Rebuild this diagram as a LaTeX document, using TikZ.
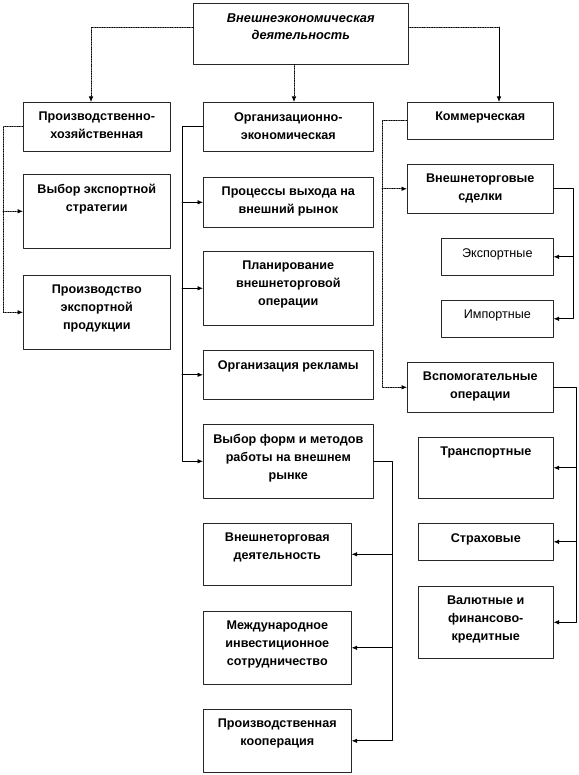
\documentclass[tikz,border=0pt]{standalone}
\usepackage{fontspec}
\setmainfont{Liberation Sans}
\usetikzlibrary{arrows.meta}
\newcommand{\bxt}[3]{\parbox[c][#2pt][t]{#1pt}{\centering\vspace*{10pt}#3}}

\begin{document}
\begin{tikzpicture}[
  x=1pt, y=-1pt,
  line cap=round, line join=round,
  blk/.style={draw=black!85, line width=0.6pt, inner sep=0pt, anchor=north west,
    font=\bfseries\fontsize{12.6}{18}\selectfont},
  lnk/.style={line width=0.7pt, -{Latex[length=5.5pt,width=4.5pt]}},
  dlnk/.style={lnk, densely dotted}
]
  \useasboundingbox (0,0) rectangle (578,775);
  % top block
  \node[blk, font=\bfseries\itshape\fontsize{12.8}{17}\selectfont] (vea) at (193,3) {\bxt{215}{61}{Внешнеэкономическая\\деятельность}};
  % first column
  \node[blk] (c1a) at (23,102) {\bxt{147}{49}{Производственно-\\хозяйственная}};
  \node[blk] (c1b) at (23,174) {\bxt{147}{74}{Выбор экспортной\\стратегии}};
  \node[blk] (c1c) at (23,275) {\bxt{147}{74}{Производство\\экспортной\\продукции}};
  % second column
  \node[blk] (c2a) at (203,102) {\bxt{170}{49}{Организационно-\\экономическая}};
  \node[blk] (c2b) at (203,177) {\bxt{170}{50}{Процессы выхода на\\внешний рынок}};
  \node[blk] (c2c) at (203,251) {\bxt{170}{74}{Планирование\\внешнеторговой\\операции}};
  \node[blk] (c2d) at (203,350) {\bxt{170}{49}{Организация рекламы}};
  \node[blk] (c2e) at (203,424) {\bxt{170}{74}{Выбор форм и методов\\работы на внешнем\\рынке}};
  \node[blk] (c2f) at (203,523) {\bxt{148}{62}{Внешнеторговая\\деятельность}};
  \node[blk] (c2g) at (203,611) {\bxt{148}{73}{Международное\\инвестиционное\\сотрудничество}};
  \node[blk] (c2h) at (203,709) {\bxt{148}{63}{Производственная\\кооперация}};
  % third column
  \node[blk] (c3a) at (407,102) {\bxt{146}{37}{Коммерческая}};
  \node[blk] (c3b) at (407,164) {\bxt{146}{49}{Внешнеторговые\\сделки}};
  \node[blk, font=\fontsize{12.6}{18}\selectfont] (c3c) at (441,238) {\bxt{112}{37}{Экспортные}};
  \node[blk, font=\fontsize{12.6}{18}\selectfont] (c3d) at (441,300) {\bxt{112}{37}{Импортные}};
  \node[blk] (c3e) at (407,362) {\bxt{146}{50}{Вспомогательные\\операции}};
  \node[blk] (c3f) at (418,437) {\bxt{135}{61}{Транспортные}};
  \node[blk] (c3g) at (418,523) {\bxt{135}{37}{Страховые}};
  \node[blk] (c3h) at (418,586) {\bxt{135}{72}{Валютные и\\финансово-\\кредитные}};
  % bend points of the connectors
  \coordinate (k1) at (91,27);
  \coordinate (k2) at (294,0);
  \coordinate (k3) at (499,27);
  \coordinate (s1) at (3,0);
  \coordinate (s2) at (182,0);
  \coordinate (s3) at (382,0);
  \coordinate (s4) at (392,0);
  \coordinate (s5) at (573,0);
  \coordinate (s6) at (576,0);
  % from the top block
  \draw[dlnk] (vea.west |- k1) -| (c1a.north -| k1);
  \draw[dlnk] (vea.south -| k2) -- (c2a.north -| k2);
  \draw[densely dotted, line width=0.7pt] (vea.east |- k3) -- (k3);
  \draw[lnk] (k3) -- (c3a.north -| k3);
  % first column
  \draw[dlnk] (c1a.west) -- (c1a.west -| s1) |- (c1c.west);
  \draw[dlnk] (c1b.west -| s1) -- (c1b.west);
  % second column
  \draw[lnk] (c2a.west) -- (c2a.west -| s2) |- (c2e.west);
  \foreach \n in {c2b,c2c,c2d}
    \draw[lnk] (\n.west -| s2) -- (\n.west);
  \draw[lnk] (c2e.east) -- (c2e.east -| s4) |- (c2h.east);
  \foreach \n in {c2f,c2g}
    \draw[lnk] (\n.east -| s4) -- (\n.east);
  % third column
  \draw[dlnk] (c3a.west) -- (c3a.west -| s3) |- (c3e.west);
  \draw[dlnk] (c3b.west -| s3) -- (c3b.west);
  \draw[lnk] (c3b.east) -- (c3b.east -| s5) |- (c3d.east);
  \draw[lnk] (c3c.east -| s5) -- (c3c.east);
  \draw[lnk] (c3e.east) -- (c3e.east -| s6) |- (c3h.east);
  \foreach \n in {c3f,c3g}
    \draw[lnk] (\n.east -| s6) -- (\n.east);
\end{tikzpicture}
\end{document}
